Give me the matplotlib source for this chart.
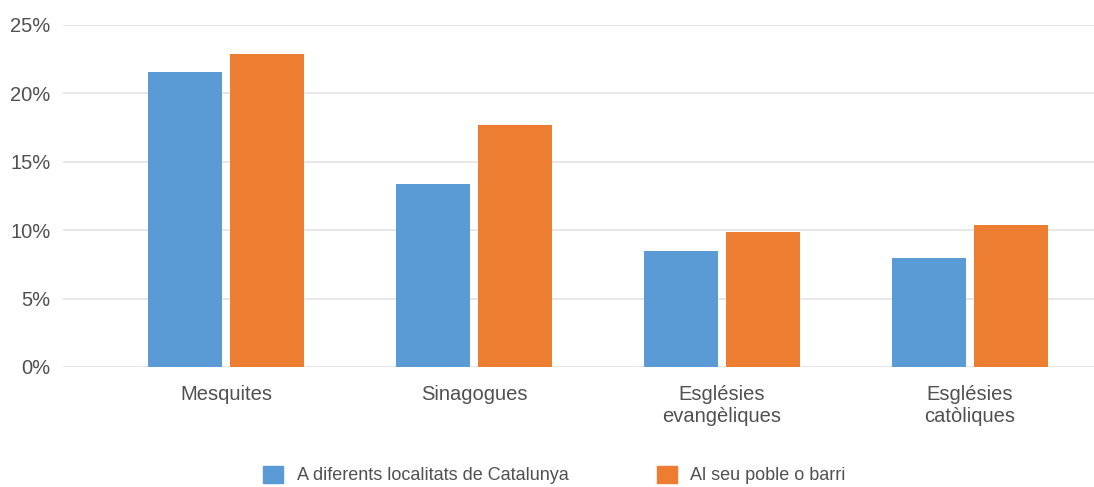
import numpy as np
import matplotlib.pyplot as plt
from matplotlib.patches import Patch

categories = ["Mesquites", "Sinagogues", "Esglésies\nevangèliques", "Esglésies\ncatòliques"]
series_names = ["A diferents localitats de Catalunya", "Al seu poble o barri"]
catalunya = [21.6, 13.4, 8.5, 8.0]
poble = [22.9, 17.7, 9.9, 10.4]
yticks = [0, 5, 10, 15, 20, 25]

blue = "#5B9BD5"
orange = "#ED7D31"
text_color = "#505050"

plt.rcParams['font.family'] = ['Liberation Sans', 'DejaVu Sans']

fig = plt.figure(figsize=(10.94, 4.87), dpi=100)
ax = fig.add_axes([63 / 1094, 1 - 367 / 487, 1 - 63 / 1094, (367 - 25) / 487])

x = np.arange(len(categories))
w = 0.298
off = 0.165
ax.bar(x - off, catalunya, w, color=blue, zorder=3)
ax.bar(x + off, poble, w, color=orange, zorder=3)

ax.set_xlim(-0.5 - 39 / 248, 3.5)
ax.set_ylim(0, 25)
ax.set_yticks(yticks)
ax.set_yticklabels([f"{v}%" for v in yticks])
ax.set_xticks(x)
ax.set_xticklabels(categories, linespacing=1.2)
ax.grid(axis='y', color='#e3e3e3', lw=1.2, zorder=0)
for s in ax.spines.values():
    s.set_visible(False)
ax.tick_params(axis='both', length=0, labelsize=14.5, colors=text_color)
ax.tick_params(axis='y', pad=9)
ax.tick_params(axis='x', pad=13)

handles = [Patch(color=blue), Patch(color=orange)]
fig.legend(handles, series_names, loc='center', bbox_to_anchor=(0.507, 1 - 475 / 487),
           ncol=2, frameon=False, fontsize=13, labelcolor=text_color,
           handlelength=1.1, handleheight=1.1, handletextpad=0.75, columnspacing=4.9)

fig.savefig("out.png", dpi=100)
